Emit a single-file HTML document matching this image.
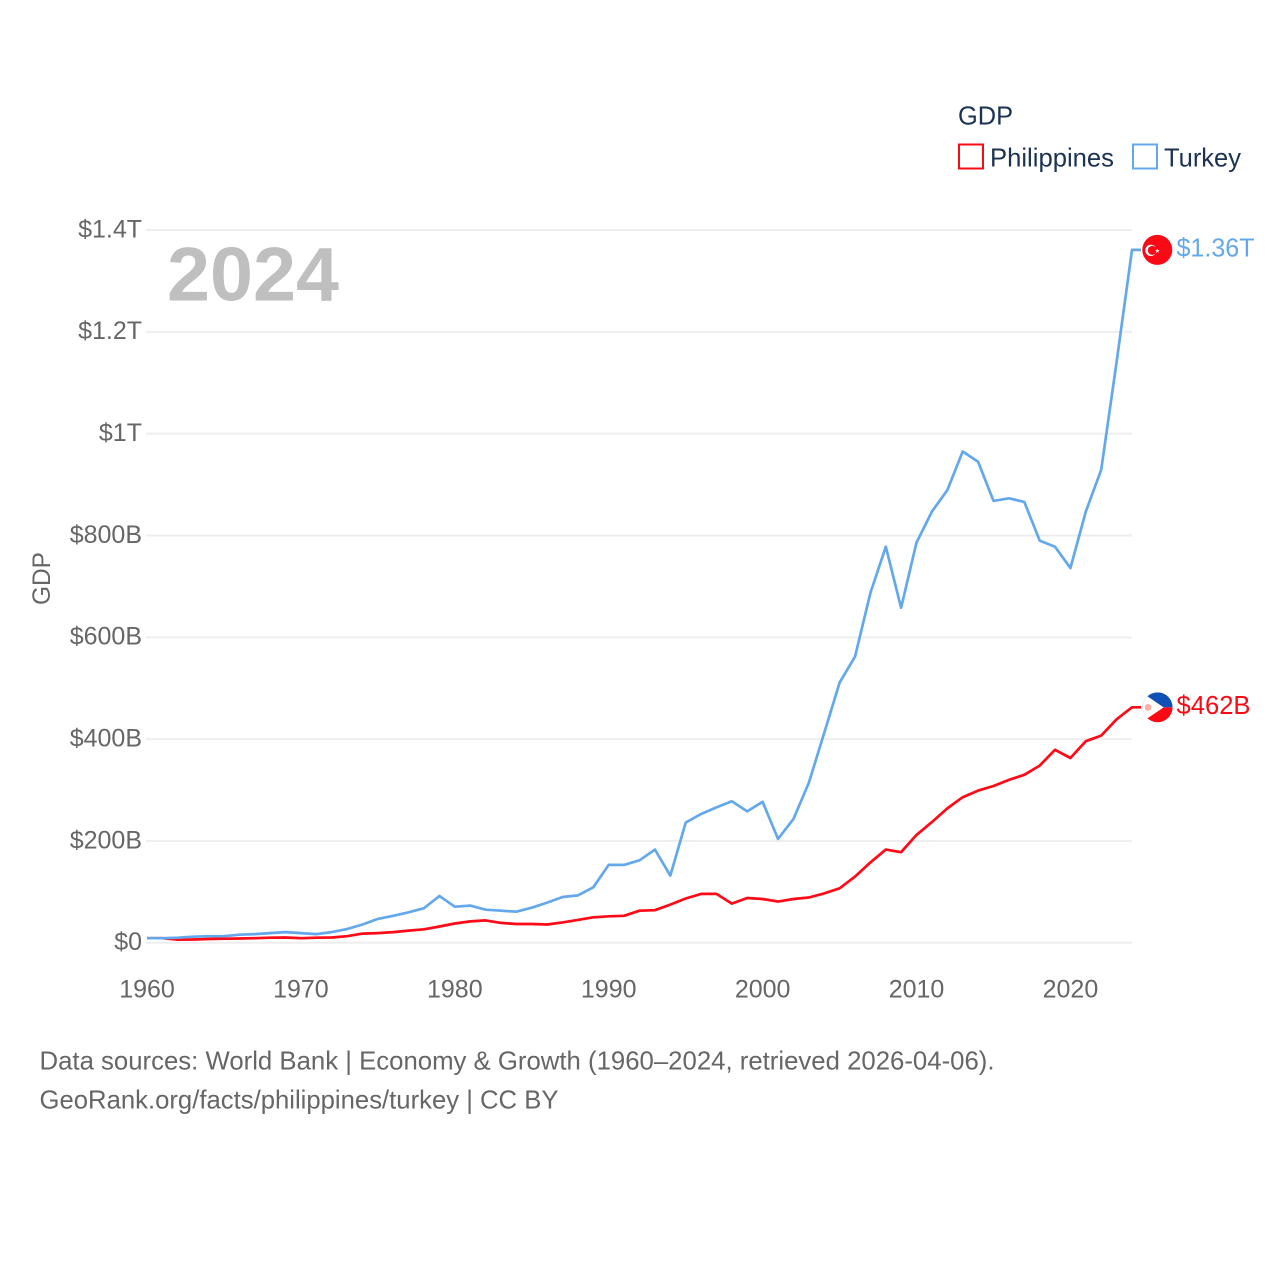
<!DOCTYPE html>
<html lang="en">
<head>
<meta charset="utf-8">
<title>GDP: Philippines and Turkey</title>
<style>
html,body{margin:0;padding:0;background:#fff;}
svg{display:block;font-family:"Liberation Sans",sans-serif;}
</style>
</head>
<body>
<svg id="chart" width="1280" height="1280" viewBox="0 0 1280 1280" xmlns="http://www.w3.org/2000/svg">
  <rect width="1280" height="1280" fill="#fff"/>
  <g id="grid"></g>
  <g id="yticks"></g>
  <g id="xticks"></g>
  <text x="167" y="300.5" font-size="76" font-weight="700" fill="#bfbfbf" textLength="172" lengthAdjust="spacingAndGlyphs">2024</text>
  <text transform="translate(50,605) rotate(-90)" font-size="25" fill="#666" textLength="53" lengthAdjust="spacingAndGlyphs">GDP</text>

  <path id="line-ph" fill="none" stroke="#ff0a16" stroke-width="2.7" stroke-linejoin="round"/>
  <path id="line-tr" fill="none" stroke="#64a8ec" stroke-width="2.7" stroke-linejoin="round"/>

  <defs>
    <clipPath id="flag-clip"><circle cx="0" cy="0" r="15"/></clipPath>
  </defs>

  <g id="flag-tr">
    <circle cx="0" cy="0" r="15" fill="#f90a15"/>
    <circle cx="-6.4" cy="0.5" r="5.6" fill="#fff"/>
    <circle cx="-5" cy="0.5" r="4.5" fill="#f90a15"/>
    <polygon points="0,-2 0.6,-0.2 2.4,-0.2 0.9,0.9 1.5,2.6 0,1.5 -1.5,2.6 -0.9,0.9 -2.4,-0.2 -0.6,-0.2" transform="translate(0,0.5)" fill="#fff"/>
  </g>
  <g id="flag-ph">
    <g clip-path="url(#flag-clip)">
      <rect x="-15" y="-15" width="30" height="15" fill="#0f50b4"/>
      <rect x="-15" y="0" width="30" height="15" fill="#fa0a14"/>
      <polygon points="-16,-15 6,0 -16,15" fill="#fff"/>
      <circle cx="-9.5" cy="0" r="3.4" fill="#ffb0aa"/>
    </g>
  </g>
  <text id="label-tr" x="1176.5" font-size="25.5" fill="#64a8ec" textLength="78" lengthAdjust="spacingAndGlyphs">$1.36T</text>
  <text id="label-ph" x="1176.5" font-size="25.5" fill="#fa0a14" textLength="74" lengthAdjust="spacingAndGlyphs">$462B</text>

  <g>
    <text x="958" y="124.5" font-size="26" fill="#1c3253" textLength="55" lengthAdjust="spacingAndGlyphs">GDP</text>
    <g>
      <rect x="959" y="144.5" width="24" height="24" fill="#fff" stroke="#f90a15" stroke-width="2"/>
      <text x="990" y="166.5" font-size="26" fill="#1c3253" textLength="124" lengthAdjust="spacingAndGlyphs">Philippines</text>
    </g>
    <g>
      <rect x="1133" y="144.5" width="24" height="24" fill="#fff" stroke="#64a8ec" stroke-width="2"/>
      <text x="1164" y="166.5" font-size="26" fill="#1c3253" textLength="77" lengthAdjust="spacingAndGlyphs">Turkey</text>
    </g>
  </g>

  <text x="39.5" y="1069.5" font-size="26" fill="#666" textLength="955" lengthAdjust="spacingAndGlyphs">Data sources: World Bank | Economy &amp; Growth (1960–2024, retrieved 2026-04-06).</text>
  <text x="39.5" y="1108.5" font-size="26" fill="#666" textLength="519" lengthAdjust="spacingAndGlyphs">GeoRank.org/facts/philippines/turkey | CC BY</text>
</svg>
<script>
const startYear = 1960;
const philippines = [9,9,6,6.5,7.5,8,8.5,9,10,10.5,9,10,10.5,13,18,19,21,24,26.5,32,38,42,44,39,37,37,36,40,45,50,52,53,63,64,75,87,96,96,77,88,86,81,86,89,97,107,130,158,183,178,212,237,264,286,299,308,320,330,348,379,363,396,407,439,462.5];
const turkey = [9,9,10,12,13,13,16,17,19,21,19,17,21,27,36,47,53,60,68,92,71,73,65,63,61,69,79,90,93,109,153,153,162,183,132,236,253,266,278,258,277,204,243,314,412,511,562,687,778,658,786,847,889,965,945,868,873,866,790,778,736,847,929,1141,1361];
const yTickValues = [0,200,400,600,800,1000,1200,1400];
const yTickLabels = ["$0","$200B","$400B","$600B","$800B","$1T","$1.2T","$1.4T"];
const xTickYears = [1960,1970,1980,1990,2000,2010,2020];

const NS = 'http://www.w3.org/2000/svg';
const plotLeft = 147, plotRight = 1132, plotBottom = 942.8, plotTop = 230;
function xScale(year){ return plotLeft + (year - startYear) * (plotRight - plotLeft) / (2024 - 1960); }
function yScale(v){ return plotBottom - v * (plotBottom - plotTop) / 1400; }

const gridGroup = document.getElementById('grid');
const yGroup = document.getElementById('yticks');
yTickValues.forEach(function(v, i){
  const line = document.createElementNS(NS, 'line');
  
  
  line.setAttribute('x1', plotLeft - 1);
  line.setAttribute('x2', plotRight);
  line.setAttribute('y1', yScale(v));
  line.setAttribute('y2', yScale(v));
  line.setAttribute('stroke', '#eeeeee');
  line.setAttribute('stroke-width', '2');
  gridGroup.appendChild(line);
  const t = document.createElementNS(NS, 'text');
  
  
  t.setAttribute('x', 142);
  t.setAttribute('y', yScale(v) + 7.4);
  t.setAttribute('text-anchor', 'end');
  t.setAttribute('font-size', '25');
  t.setAttribute('fill', '#666');
  t.textContent = yTickLabels[i];
  yGroup.appendChild(t);
});

const xGroup = document.getElementById('xticks');
xTickYears.forEach(function(year){
  const t = document.createElementNS(NS, 'text');
  
  
  t.setAttribute('x', xScale(year));
  t.setAttribute('y', 997.5);
  t.setAttribute('text-anchor', 'middle');
  t.setAttribute('font-size', '25');
  t.setAttribute('fill', '#666');
  t.textContent = String(year);
  xGroup.appendChild(t);
});

function linePath(values){
  let d = values.map(function(v, i){
    return (i ? 'L' : 'M') + xScale(startYear + i).toFixed(1) + ' ' + yScale(v).toFixed(1);
  }).join(' ');
  const endY = yScale(values[values.length - 1]).toFixed(1);
  return d + ' L1141 ' + endY;
}
document.getElementById('line-ph').setAttribute('d', linePath(philippines));
document.getElementById('line-tr').setAttribute('d', linePath(turkey));

const trY = yScale(turkey[turkey.length - 1]);
const phY = yScale(philippines[philippines.length - 1]);
document.getElementById('flag-tr').setAttribute('transform', 'translate(1157.3,' + trY + ')');
document.getElementById('flag-ph').setAttribute('transform', 'translate(1157.6,' + phY + ')');
document.getElementById('label-tr').setAttribute('y', trY + 6.5);
document.getElementById('label-ph').setAttribute('y', phY + 6.5);
</script>
</body>
</html>
